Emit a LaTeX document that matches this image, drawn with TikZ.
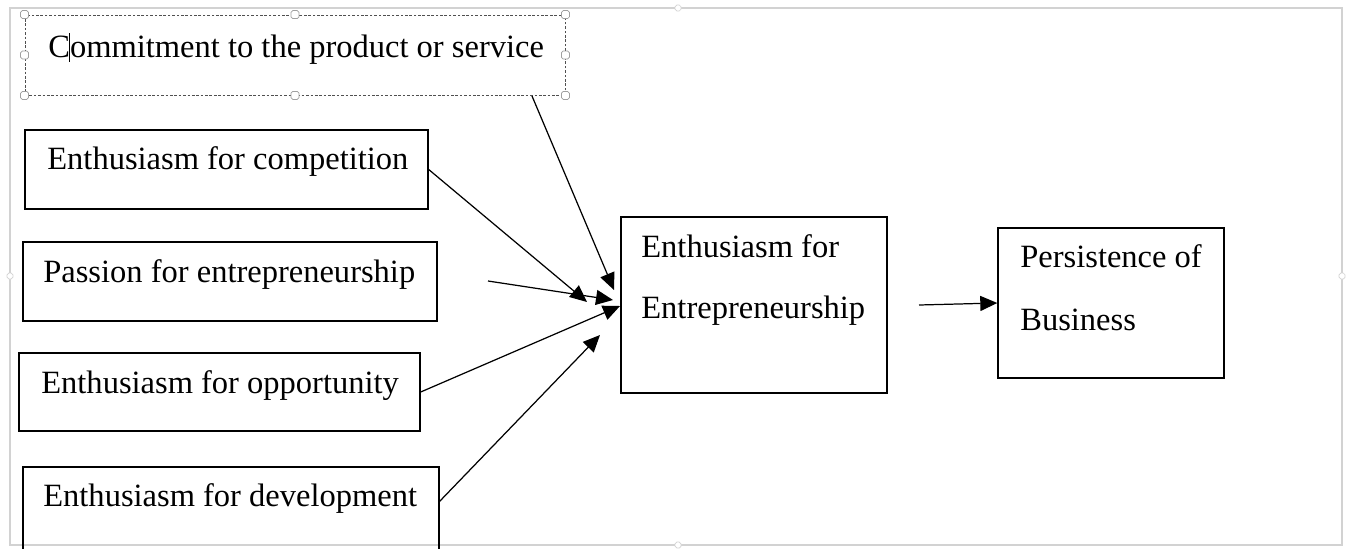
\documentclass[tikz,border=0pt]{standalone}
\usepackage{fontspec}
\setmainfont{Liberation Serif}
\usetikzlibrary{arrows.meta,fit}
\definecolor{framegray}{HTML}{D2D2D2}
\definecolor{handlegray}{HTML}{A0A0A0}
\definecolor{selgray}{HTML}{505050}

\begin{document}
\begin{tikzpicture}[x=0.02cm, y=-0.02cm,
  box/.style={draw, line width=0.8pt, inner sep=0pt},
  txt/.style={anchor=base west, inner sep=0pt, font=\fontsize{18.5}{20}\selectfont},
  arr/.style={line width=0.7pt, -{Triangle[length=0.34cm, width=0.3cm]}},
  handle/.style={draw=handlegray, fill=white, rounded corners=1pt,
    minimum size=0.16cm, inner sep=0pt, line width=0.4pt}]
  \useasboundingbox (0,0) rectangle (1349,548);
  % canvas frame
  \draw[framegray, line width=0.6pt] (10,8) rectangle (1342,545);
  \foreach \p [count=\i] in {(678,8), (678,545), (10,276), (1342,276)}
    \node[handle, draw=framegray, minimum size=0.12cm] (fh\i) at \p {};
  % boxes
  \node[box, draw=selgray, line width=0.5pt, dash pattern=on 1.5pt off 1pt,
    fit={(25,15) (565,95)}] (commit) {};
  \node[box, fit={(25,130) (428,209)}] (comp) {};
  \node[box, fit={(23,242) (437,321)}] (pass) {};
  \node[box, fit={(19,353) (420,431)}] (opp) {};
  \node[box, fit={(23,467) (439,553)}] (dev) {};
  \node[box, fit={(621,217) (887,393)}] (ent) {};
  \node[box, fit={(998,228) (1224,378)}] (pers) {};
  % texts
  \node[txt] (t-commit) at (48,57) {Commitment to the product or service};
  \node[txt] (t-comp) at (47,169) {Enthusiasm for competition};
  \node[txt] (t-pass) at (43,282) {Passion for entrepreneurship};
  \node[txt] (t-opp) at (41,393) {Enthusiasm for opportunity};
  \node[txt] (t-dev) at (43,506) {Enthusiasm for development};
  \node[txt] (t-ent1) at (641,257) {Enthusiasm for};
  \node[txt] (t-ent2) at (641,318) {Entrepreneurship};
  \node[txt] (t-pers1) at (1020,267) {Persistence of};
  \node[txt] (t-pers2) at (1020,330) {Business};
  % selection handles and cursor
  \foreach \a [count=\i] in {north west, north, north east, west, east,
    south west, south, south east}
    \node[handle] (h\i) at (commit.\a) {};
  \draw[line width=0.5pt] (69,33) -- (69,62);
  % connectors
  \coordinate (commit-out) at (532,96);
  \coordinate (pass-out) at (488,281);
  \coordinate (dev-out) at (439,502);
  \coordinate (ent-out) at (919,305);
  \coordinate (in1) at (614,290);
  \coordinate (in2) at (587,302);
  \coordinate (in3) at (613,300);
  \coordinate (in4) at (620,306);
  \coordinate (in5) at (600,335);
  \draw[arr] (commit-out) -- (in1);
  \draw[arr] (comp.east) -- (in2);
  \draw[arr] (pass-out) -- (in3);
  \draw[arr] (opp.east) -- (in4);
  \draw[arr] (dev-out) -- (in5);
  \draw[arr] (ent-out) -- (pers.west);
\end{tikzpicture}
\end{document}
